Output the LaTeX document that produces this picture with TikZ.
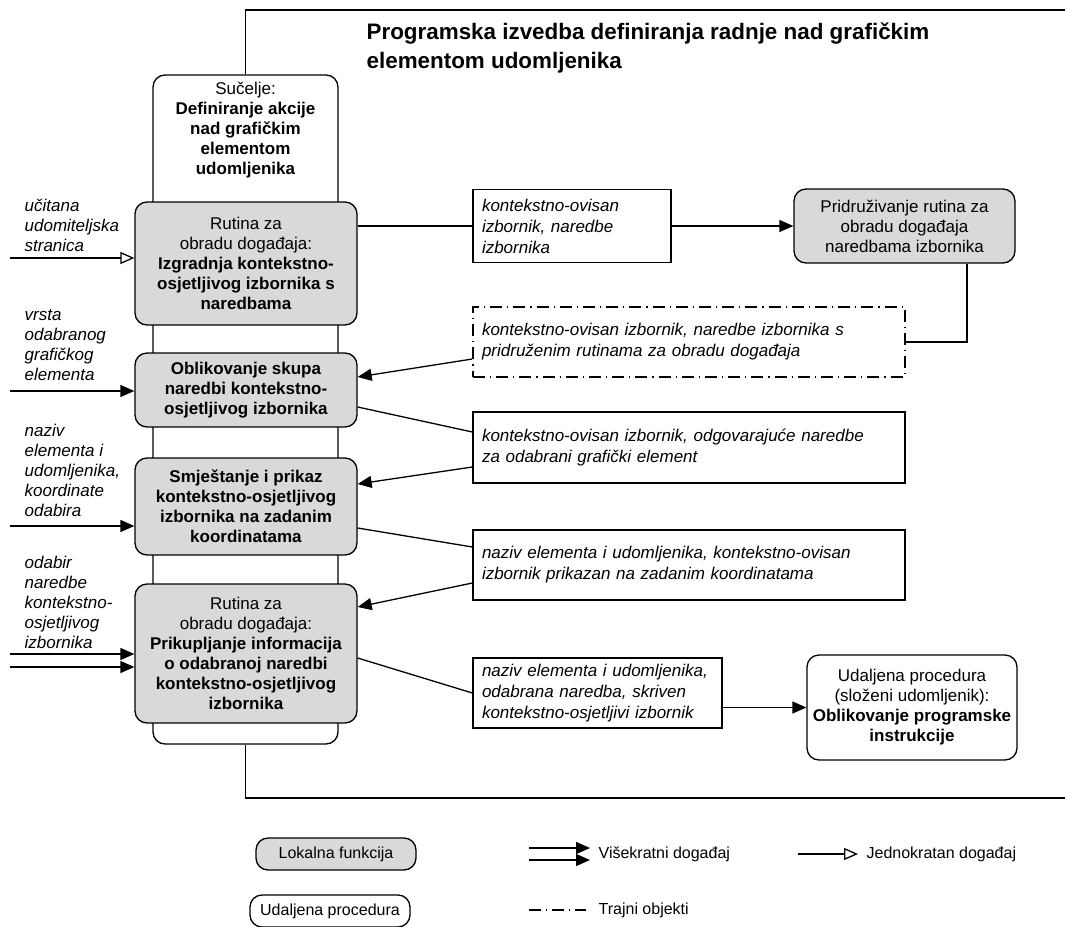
\documentclass[tikz,border=0pt]{standalone}
\usepackage{fontspec}
\setmainfont{Liberation Sans}
\usetikzlibrary{arrows.meta,calc,positioning}
\definecolor{localGray}{HTML}{D9D9D9}

\begin{document}
\begin{tikzpicture}[x=0.5pt,y=-0.5pt, line width=0.65pt,
  font=\fontsize{8.5}{10}\selectfont,
  localfn/.style={draw, rounded corners=6pt, fill=localGray, align=center, inner sep=1pt},
  remoteproc/.style={draw, rounded corners=6pt, fill=white, align=center, inner sep=1pt},
  databox/.style={draw, fill=white, align=left, inner xsep=4.5pt, inner ysep=1pt,
    font=\fontsize{8.5}{10.5}\selectfont\itshape},
  persist/.style={dash pattern=on 6pt off 2.5pt on 0.6pt off 2.5pt},
  inlabel/.style={anchor=west, align=left, inner sep=0pt,
    font=\fontsize{8.5}{10}\selectfont\itshape},
  legtext/.style={anchor=west, inner sep=0pt, font=\fontsize{8}{9.5}\selectfont},
  event/.style={-{Triangle[length=7pt,width=6pt]}},
  onceevent/.style={-{Triangle[open,length=7pt,width=6pt]}}]
  \useasboundingbox (0,0) rectangle (1065,926);

  \node[font=\fontsize{11.2}{14.5}\selectfont\bfseries, anchor=west, align=left, inner sep=0pt]
    (title) at (366,47.5)
    {Programska izvedba definiranja radnje nad grafičkim\\elementom udomljenika};

  \node[remoteproc, minimum width=92.5pt, minimum height=334.5pt] (iface) at (245.5,409.5) {};
  \node[align=center, inner sep=0pt] (ifacetext) at (245.5,130)
    {Sučelje:\\\textbf{Definiranje akcije}\\\textbf{nad grafičkim}\\\textbf{elementom}\\\textbf{udomljenika}};

  \coordinate (frameTR) at (1065,10);
  \coordinate (frameBR) at (1065,798);
  \draw (iface.north) -- (iface.north |- frameTR) -- (frameTR);
  \draw (iface.south) -- (iface.south |- frameBR) -- (frameBR);

  \node[localfn, minimum width=111pt, minimum height=61.5pt] (g1) at (246,263.5)
    {Rutina za\\obradu događaja:\\\textbf{Izgradnja kontekstno-}\\\textbf{osjetljivog izbornika s}\\\textbf{naredbama}};
  \node[localfn, minimum width=111pt, minimum height=37pt] (g2) at (246,390)
    {\textbf{Oblikovanje skupa}\\\textbf{naredbi kontekstno-}\\\textbf{osjetljivog izbornika}};
  \node[localfn, minimum width=111pt, minimum height=48.5pt] (g3) at (246,506.5)
    {\textbf{Smještanje i prikaz}\\\textbf{kontekstno-osjetljivog}\\\textbf{izbornika na zadanim}\\\textbf{koordinatama}};
  \node[localfn, minimum width=111pt, minimum height=69.5pt] (g4) at (246,653.5)
    {Rutina za\\obradu događaja:\\\textbf{Prikupljanje informacija}\\\textbf{o odabranoj naredbi}\\\textbf{kontekstno-osjetljivog}\\\textbf{izbornika}};

  \node[inlabel] (in1label) at (24,225) {učitana\\udomiteljska\\stranica};
  \node[inlabel] (in2label) at (24,345) {vrsta\\odabranog\\grafičkog\\elementa};
  \node[inlabel] (in3label) at (24,470) {naziv\\elementa i\\udomljenika,\\koordinate\\odabira};
  \node[inlabel] (in4label) at (24,602) {odabir\\naredbe\\kontekstno-\\osjetljivog\\izbornika};

  \coordinate (in1) at (10,258);
  \coordinate (in2) at (10,391);
  \coordinate (in3) at (10,526);
  \coordinate (in4a) at (10,654);
  \coordinate (in4b) at (10,667);
  \draw[onceevent] (in1) -- (in1 -| g1.west);
  \draw[event] (in2) -- (in2 -| g2.west);
  \draw[event] (in3) -- (in3 -| g3.west);
  \draw[event] (in4a) -- (in4a -| g4.west);
  \draw[event] (in4b) -- (in4b -| g4.west);

  \node[databox, text width=90pt, minimum height=36.5pt] (menuA) at (572,226)
    {kontekstno-ovisan\\izbornik, naredbe\\izbornika};
  \node[localfn, minimum width=110.5pt, minimum height=37pt] (assign) at (904.5,226)
    {Pridruživanje rutina za\\obradu događaja\\naredbama izbornika};
  \node[databox, persist, text width=207pt, minimum height=35pt] (menuB) at (689,342)
    {kontekstno-ovisan izbornik, naredbe izbornika s\\pridruženim rutinama za obradu događaja};
  \node[databox, text width=207pt, minimum height=35.5pt] (menuC) at (689,447.5)
    {kontekstno-ovisan izbornik, odgovarajuće naredbe\\za odabrani grafički element};
  \node[databox, text width=207pt, minimum height=35pt] (menuD) at (689,565)
    {naziv elementa i udomljenika, kontekstno-ovisan\\izbornik prikazan na zadanim koordinatama};
  \node[databox, text width=115.5pt, minimum height=35pt] (menuE) at (597.5,693)
    {naziv elementa i udomljenika,\\odabrana naredba, skriven\\kontekstno-osjetljivi izbornik};
  \node[remoteproc, minimum width=105pt, minimum height=52.5pt] (rproc) at (912,707.5)
    {Udaljena procedura\\(složeni udomljenik):\\\textbf{Oblikovanje programske}\\\textbf{instrukcije}};

  \draw (g1.east |- menuA.west) -- (menuA.west);
  \draw[event] (menuA.east) -- (assign.west);
  \draw ([xshift=31.25pt]assign.south) |- (menuB.east);
  \draw[event] ([yshift=-8.5pt]menuB.west) -- ([yshift=6.5pt]g2.east);
  \draw ([yshift=-8.5pt]g2.east) -- ([yshift=7.75pt]menuC.west);
  \draw[event] ([yshift=-9.75pt]menuC.west) -- ([yshift=11.25pt]g3.east);
  \draw ([yshift=-10.75pt]g3.east) -- ([yshift=9pt]menuD.west);
  \draw[event] ([yshift=-9pt]menuD.west) -- ([yshift=23.25pt]g4.east);
  \draw ([yshift=-2.25pt]g4.east) -- (menuE.west);
  \draw[event] (menuE.east |- rproc.west) -- (rproc.west);

  \node[localfn, font=\fontsize{8}{9.5}\selectfont, minimum width=80pt, minimum height=16pt]
    (legLocal) at (336,854) {Lokalna funkcija};
  \node[remoteproc, font=\fontsize{8}{9.5}\selectfont, minimum width=80pt, minimum height=16pt]
    (legRemote) at (330,911) {Udaljena procedura};

  \coordinate (multiA) at (529,848);
  \coordinate (multiB) at (529,860);
  \node[legtext] (legMulti) at (598,854) {Višekratni događaj};
  \draw[event] (multiA) -- ([xshift=-4pt]multiA -| legMulti.west);
  \draw[event] (multiB) -- ([xshift=-4pt]multiB -| legMulti.west);

  \coordinate (onceStart) at (798,854);
  \node[legtext] (legOnce) at (866,854) {Jednokratan događaj};
  \draw[onceevent] (onceStart) -- ([xshift=-4pt]legOnce.west);

  \coordinate (persistStart) at (529,910);
  \node[legtext] (legPersist) at (598,910) {Trajni objekti};
  \draw[persist] (persistStart) -- ([xshift=-6pt]legPersist.west);
\end{tikzpicture}
\end{document}
